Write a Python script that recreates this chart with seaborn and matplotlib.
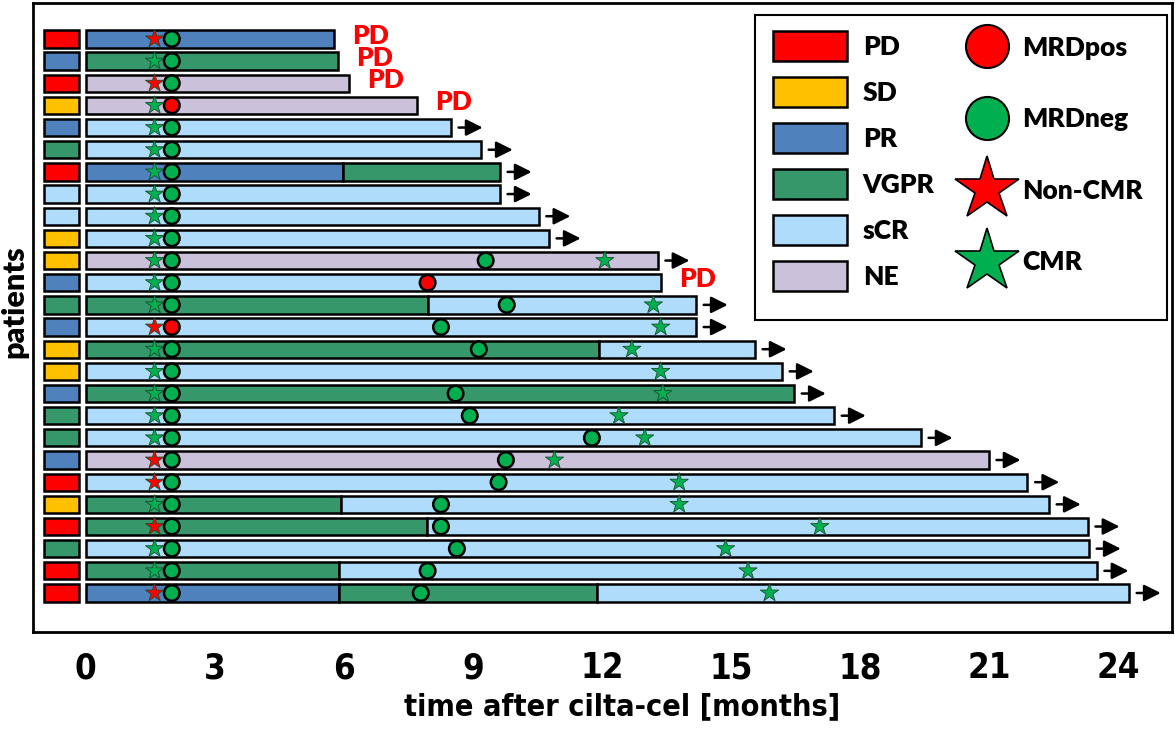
import numpy as np
import pandas as pd
import matplotlib
matplotlib.use('Agg')
import matplotlib.pyplot as plt
import seaborn as sns
from matplotlib.patches import Patch, Rectangle
from matplotlib.lines import Line2D

sns.set_style('white')
plt.rcParams['font.family'] = ['Lato', 'DejaVu Sans']
plt.rcParams['text.color'] = 'black'
plt.rcParams['xtick.color'] = 'black'
plt.rcParams['axes.labelcolor'] = 'black'

# best response per patient (left squares), top to bottom
best_resp = ['PD', 'PR', 'PD', 'SD', 'PR', 'VGPR', 'PD', 'sCR', 'sCR', 'SD', 'SD', 'PR', 'VGPR',
             'PR', 'SD', 'SD', 'PR', 'VGPR', 'VGPR', 'PR', 'PD', 'SD', 'PD', 'VGPR', 'PD', 'PD']

# response segments along the time axis (months)
seg_resp = [['PR'], ['VGPR'], ['NE'], ['NE'], ['sCR'], ['sCR'], ['PR', 'VGPR'], ['sCR'], ['sCR'],
            ['sCR'], ['NE'], ['sCR'], ['VGPR', 'sCR'], ['sCR'], ['VGPR', 'sCR'], ['sCR'], ['VGPR'],
            ['sCR'], ['sCR'], ['NE'], ['sCR'], ['VGPR', 'sCR'], ['VGPR', 'sCR'], ['sCR'],
            ['VGPR', 'sCR'], ['PR', 'VGPR', 'sCR']]
seg_end = [[5.77], [5.86], [6.12], [7.70], [8.49], [9.19], [5.98, 9.63], [9.63], [10.53],
           [10.77], [13.3], [13.37], [7.95, 14.19], [14.19], [11.93, 15.56], [16.19], [16.47],
           [17.4], [19.42], [21.0], [21.9], [5.93, 22.4], [7.93, 23.3], [23.33],
           [5.9, 23.51], [5.9, 11.9, 24.26]]

# PD = progression, else ongoing (arrow)
end_status = ['PD', 'PD', 'PD', 'PD', 'on', 'on', 'on', 'on', 'on', 'on', 'on', 'PD', 'on',
              'on', 'on', 'on', 'on', 'on', 'on', 'on', 'on', 'on', 'on', 'on', 'on', 'on']

# first assessment: CMR status (star) and MRD status (circle)
first_cmr_time = 1.6
first_mrd_time = 2.0
first_cmr = ['non', 'cmr', 'non', 'cmr', 'cmr', 'cmr', 'cmr', 'cmr', 'cmr', 'cmr', 'cmr', 'cmr', 'cmr',
             'non', 'cmr', 'cmr', 'cmr', 'cmr', 'cmr', 'non', 'non', 'cmr', 'non', 'cmr', 'cmr', 'non']
first_mrd = ['neg', 'neg', 'neg', 'pos', 'neg', 'neg', 'neg', 'neg', 'neg', 'neg', 'neg', 'neg', 'neg',
             'pos', 'neg', 'neg', 'neg', 'neg', 'neg', 'neg', 'neg', 'neg', 'neg', 'neg', 'neg', 'neg']

# later assessments (row index, time)
late_mrd_row = [10, 11, 12, 13, 14, 16, 17, 18, 19, 20, 21, 22, 23, 24, 25]
late_mrd_time = [9.3, 7.95, 9.79, 8.26, 9.14, 8.6, 8.93, 11.77, 9.77, 9.6, 8.26, 8.26, 8.63, 7.95, 7.79]
late_mrd = ['neg', 'pos', 'neg', 'neg', 'neg', 'neg', 'neg', 'neg', 'neg', 'neg', 'neg', 'neg', 'neg',
            'neg', 'neg']
late_cmr_row = [10, 12, 13, 14, 15, 16, 17, 18, 19, 20, 21, 22, 23, 24, 25]
late_cmr_time = [12.07, 13.2, 13.37, 12.7, 13.37, 13.42, 12.4, 13.0, 10.9, 13.8, 13.8, 17.07,
                 14.88, 15.4, 15.9]

resp_order = ['PD', 'SD', 'PR', 'VGPR', 'sCR', 'NE']
resp_colors = {'PD': '#FF0000', 'SD': '#FFC000', 'PR': '#4F81BD', 'VGPR': '#36986A',
               'sCR': '#AEDCFA', 'NE': '#CCC1DA'}
green = '#00B050'
red = '#FF0000'
narrow = dict(family='DejaVu Sans', fontstretch='condensed', fontweight='bold')

fig = plt.figure(figsize=(11.75, 7.32), dpi=100)
ax = fig.add_axes([0.028, 0.1366, 0.9694, 0.8593])

n = len(best_resp)
rows = np.arange(n)
h = 0.78

# left squares
ax.barh(rows, 0.82, left=-0.98, height=h, color=[resp_colors[r] for r in best_resp],
        edgecolor='black', linewidth=1.8, zorder=2)

# response segments
for i in range(n):
    start = 0
    for r, e in zip(seg_resp[i], seg_end[i]):
        ax.barh(i, e - start, left=start, height=h, color=resp_colors[r],
                edgecolor='black', linewidth=1.8, zorder=2)
        start = e
    end = seg_end[i][-1]
    if end_status[i] == 'PD':
        ax.text(end + 0.42, i - 0.15, 'PD', color=red, fontsize=19, fontweight='heavy',
                ha='left', va='center')
    else:
        ax.annotate('', xy=(end + 0.74, i), xytext=(end + 0.18, i),
                    arrowprops=dict(arrowstyle='-|>', color='black', lw=1.8, mutation_scale=25,
                                    shrinkA=0, shrinkB=0), zorder=3)

stars = pd.DataFrame({'row': list(rows) + late_cmr_row,
                      'time': [first_cmr_time] * n + late_cmr_time,
                      'status': first_cmr + ['cmr'] * len(late_cmr_row)})
circles = pd.DataFrame({'row': list(rows) + late_mrd_row,
                        'time': [first_mrd_time] * n + late_mrd_time,
                        'status': first_mrd + late_mrd})

sns.scatterplot(data=circles, x='time', y='row', hue='status', palette={'neg': green, 'pos': red},
                marker='o', s=125, edgecolor='black', linewidth=1.8, legend=False, zorder=4, ax=ax)
sns.scatterplot(data=stars, x='time', y='row', hue='status', palette={'cmr': green, 'non': red},
                marker='*', s=190, edgecolor='#1a4d2e', linewidth=0.6, legend=False, zorder=4, ax=ax)

ax.set_xlim(-1.23, 25.26)
ax.set_ylim(26.76, -1.62)
ax.set_xticks(np.arange(0, 25, 3))
ax.set_yticks([])
ax.tick_params(axis='x', length=0, pad=14)
for lab in ax.get_xticklabels():
    lab.set_family('DejaVu Sans')
    lab.set_fontstretch('condensed')
    lab.set_fontweight('bold')
    lab.set_fontsize(25)
ax.set_xlabel('time after cilta-cel [months]', fontsize=22, **narrow)
ax.xaxis.set_label_coords(0.517, -0.096)
ax.set_ylabel('patients', fontsize=22, fontweight='heavy')
ax.yaxis.set_label_coords(-0.004, 0.525)
for sp in ax.spines.values():
    sp.set_visible(True)
    sp.set_color('black')
    sp.set_linewidth(2)

# legend box
ax.add_patch(Rectangle((0.634, 0.496), 0.362, 0.485, transform=ax.transAxes, fill=False,
                       edgecolor='black', linewidth=1.5, zorder=5))
patch_handles = [Patch(facecolor=resp_colors[r], edgecolor='black', linewidth=1.8, label=r)
                 for r in resp_order]
leg1 = ax.legend(handles=patch_handles, loc='upper left', bbox_to_anchor=(0.6497, 0.955),
                 frameon=False, borderpad=0, borderaxespad=0, handlelength=2.8,
                 handleheight=1.35, labelspacing=0.62, handletextpad=0.6,
                 prop={'size': 19, 'weight': 'heavy'})
ax.add_artist(leg1)
mark_handles = [
    Line2D([], [], marker='o', ls='none', markersize=31, markerfacecolor=red,
           markeredgecolor='black', markeredgewidth=1.5, label='MRDpos'),
    Line2D([], [], marker='o', ls='none', markersize=31, markerfacecolor=green,
           markeredgecolor='black', markeredgewidth=1.5, label='MRDneg'),
    Line2D([], [], marker='*', ls='none', markersize=48, markerfacecolor=red,
           markeredgecolor='black', markeredgewidth=1.2, label='Non-CMR'),
    Line2D([], [], marker='*', ls='none', markersize=48, markerfacecolor=green,
           markeredgecolor='black', markeredgewidth=1.2, label='CMR'),
]
ax.legend(handles=mark_handles, loc='upper left', bbox_to_anchor=(0.8156, 0.948),
          frameon=False, borderpad=0, borderaxespad=0, handlelength=1.9,
          labelspacing=1.8, handletextpad=0.4, prop={'size': 19, 'weight': 'heavy'})

fig.savefig('out.png', dpi=100)
